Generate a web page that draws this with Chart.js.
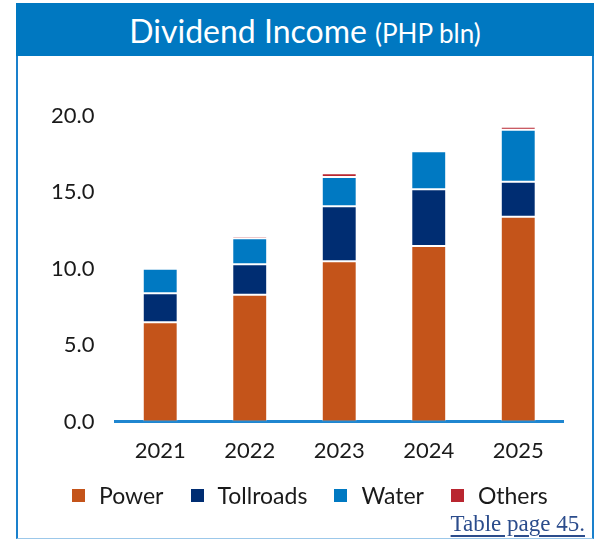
<!DOCTYPE html>
<html>
<head>
<meta charset="utf-8">
<script src="https://cdn.jsdelivr.net/npm/chart.js@4.4.1/dist/chart.umd.min.js"></script>
<style>
  body { margin: 0; background: #fff; }
  #wrap { position: relative; width: 596px; height: 540px; overflow: hidden; }
  #box {
    position: absolute; left: 16px; top: 3px; width: 574px; height: 535px;
    border-left: 2px solid #1a80cc; border-right: 2px solid #1a80cc;
    border-bottom: 1px solid #9cc8ea;
  }
  #title {
    position: absolute; left: 16px; top: 3px; width: 578px; height: 53px;
    background: #0078c1; color: #fff; text-align: center;
    font-family: Lato, sans-serif; font-size: 32px; line-height: 55px;
  }
  #title small { font-size: 26px; }
  #legend {
    position: absolute; left: 72px; top: 481px; display: flex; align-items: center;
    font-family: Lato, sans-serif; font-size: 23px; color: #1a1a1a;
  }
  #legend span.item { display: flex; align-items: center; margin-right: 27px; }
  #legend i { display: inline-block; width: 13px; height: 13px; margin-right: 14px; }
  #src {
    position: absolute; right: 11px; top: 511px;
    font-family: "Liberation Serif", serif; font-size: 23px; color: #2b4c8c;
    text-decoration: underline; text-decoration-thickness: 2px; text-underline-offset: 4px;
  }
  canvas { position: absolute; left: 0; top: 0; }
</style>
</head>
<body>
<div id="wrap">
  <div id="box"></div>
  <div id="title">Dividend Income <small>(PHP bln)</small></div>
  <canvas id="chart" width="596" height="540"></canvas>
  <div id="legend"></div>
  <div id="src">Table page 45.</div>
</div>
<script>
// values (PHP bln)
const years = ['2021', '2022', '2023', '2024', '2025'];
const power = [6.5, 8.3, 10.5, 11.5, 13.4];
const tollroads = [1.9, 2.0, 3.6, 3.7, 2.3];
const water = [1.6, 1.7, 1.9, 2.5, 3.4];
const others = [0.0, 0.15, 0.25, 0.1, 0.2];
const yTicks = [0, 5, 10, 15, 20];

const seg = (label, data, color) => ({
    label: label,
    data: data,
    backgroundColor: color,
    borderColor: 'rgba(255,255,255,0.3)',
    borderWidth: 1,
    borderSkipped: false,
    categoryPercentage: 1.0,
    barPercentage: 0.39
});

const chart = new Chart(document.getElementById('chart').getContext('2d'), {
    type: 'bar',
    data: {
        labels: years,
        datasets: [
            seg('Power', power, '#c4541a'),
            seg('Tollroads', tollroads, '#002d72'),
            seg('Water', water, '#0079c2'),
            seg('Others', others, '#b92630')
        ]
    },
    options: {
        responsive: false,
        animation: false,
        layout: { padding: { left: 30, right: 33, top: 116, bottom: 60 } },
        scales: {
            x: {
                stacked: true,
                grid: { display: false, drawTicks: false },
                border: { display: true, color: '#1f86d0', width: 3 },
                ticks: { padding: 16, color: '#1a1a1a', font: { family: 'Lato', size: 22 } }
            },
            y: {
                stacked: true,
                min: 0,
                max: 20,
                afterBuildTicks: (axis) => { axis.ticks = yTicks.map(v => ({ value: v })); },
                grid: { display: false, drawTicks: false },
                border: { display: false },
                ticks: {
                    padding: 21,
                    color: '#1a1a1a',
                    font: { family: 'Lato', size: 22 },
                    callback: (v) => Number(v).toFixed(1)
                }
            }
        },
        plugins: {
            legend: { display: false },
            tooltip: { enabled: false }
        }
    }
});

// legend built from the chart's own datasets
const legendEl = document.getElementById('legend');
chart.data.datasets.forEach(ds => {
    const item = document.createElement('span');
    item.className = 'item';
    item.innerHTML = '<i style="background:' + ds.backgroundColor + '"></i>' + ds.label;
    legendEl.appendChild(item);
});
</script>
</body>
</html>
